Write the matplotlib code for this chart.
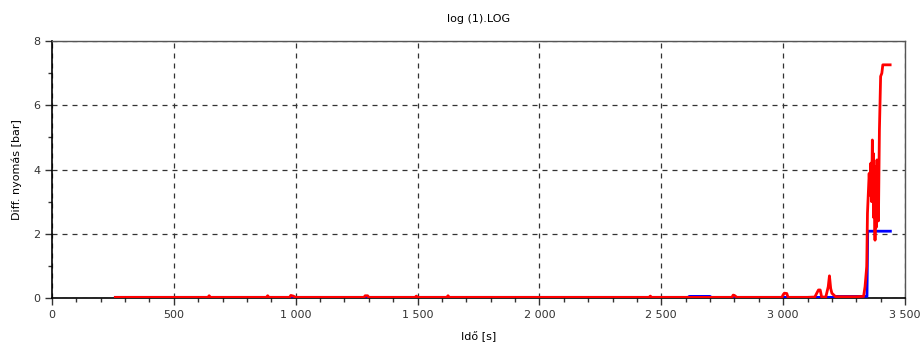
import numpy as np
import matplotlib.pyplot as plt
from matplotlib.ticker import FuncFormatter, MultipleLocator

# red series: time [s], diff. pressure [bar]
red_t = [260, 400, 500, 640, 645, 650, 880, 885, 890, 975, 980, 990, 1000,
         1280, 1285, 1295, 1300, 1310, 1490, 1495, 1500, 1620, 1625, 1630,
         2000, 2450, 2455, 2460, 2700, 2790, 2795, 2800, 2810, 2900, 2995,
         3000, 3005, 3015, 3020, 3100, 3130, 3138, 3145, 3152, 3158, 3175,
         3185, 3190, 3195, 3200, 3215, 3300, 3330, 3336, 3343, 3346, 3353,
         3357, 3360, 3363, 3366, 3368, 3370, 3372, 3374, 3377, 3379, 3382,
         3385, 3388, 3391, 3395, 3400, 3405, 3409, 3420, 3439]
red_v = [0.02, 0.02, 0.02, 0.02, 0.07, 0.02, 0.02, 0.07, 0.02, 0.02, 0.08,
         0.06, 0.02, 0.02, 0.07, 0.07, 0.02, 0.02, 0.02, 0.06, 0.02, 0.02,
         0.07, 0.02, 0.02, 0.02, 0.06, 0.02, 0.02, 0.02, 0.09, 0.08, 0.02,
         0.02, 0.02, 0.1, 0.15, 0.14, 0.02, 0.02, 0.03, 0.15, 0.25, 0.25,
         0.03, 0.03, 0.35, 0.69, 0.3, 0.15, 0.04, 0.04, 0.05, 0.35, 0.98,
         2.64, 3.88, 3.2, 4.2, 3.0, 4.92, 3.6, 4.5, 2.5, 4.1, 1.8, 3.9, 2.2,
         4.3, 2.95, 2.4, 5.23, 6.9, 7.0, 7.26, 7.26, 7.26]

# blue series
blue_t = [260, 2610, 2615, 2700, 2705, 3215, 3220, 3344, 3347, 3440]
blue_v = [0.02, 0.02, 0.05, 0.05, 0.02, 0.02, 0.05, 0.05, 2.08, 2.08]

x_ticks = [0, 500, 1000, 1500, 2000, 2500, 3000, 3500]
y_ticks = [0, 2, 4, 6, 8]

plt.rcParams['font.family'] = 'DejaVu Sans'
fig = plt.figure(figsize=(9.23, 3.51), dpi=100)
ax = fig.add_axes([0.0563, 0.151, 0.9242, 0.732])

ax.plot(blue_t, blue_v, color='#0000ff', lw=2, zorder=3)
ax.plot(red_t, red_v, color='#ff0000', lw=2, zorder=4)

ax.set_xlim(0, 3500)
ax.set_ylim(0, 8)
ax.set_xticks(x_ticks)
ax.set_yticks(y_ticks)
ax.xaxis.set_minor_locator(MultipleLocator(100))
ax.yaxis.set_minor_locator(MultipleLocator(1))
ax.xaxis.set_major_formatter(FuncFormatter(lambda v, p: '{:,}'.format(int(v)).replace(',', ' ')))

ax.grid(True, which='major', color='#333333', linestyle=(0, (4, 4)), lw=0.9)
ax.tick_params(which='major', direction='out', length=5, width=1, labelsize=8, colors='#333333')
ax.tick_params(which='minor', direction='out', length=3, width=1, colors='#333333')

for s in ['left', 'bottom']:
    ax.spines[s].set_color('black')
    ax.spines[s].set_linewidth(1.2)
for s in ['top', 'right']:
    ax.spines[s].set_color('#555555')
    ax.spines[s].set_linewidth(1.0)

ax.set_title('log (1).LOG', fontsize=8, pad=14)
ax.set_xlabel('Idő [s]', fontsize=8, labelpad=8)
ax.set_ylabel('Diff. nyomás [bar]', fontsize=8, labelpad=8)

plt.savefig('out.png', dpi=100)
